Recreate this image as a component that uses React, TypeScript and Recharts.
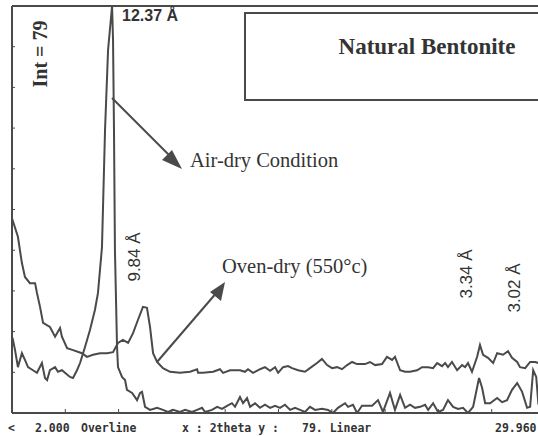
import { LineChart, Line, XAxis, YAxis } from 'recharts';

// 2theta (deg) / intensity (counts)
const airTheta = [
  2.0, 2.05, 2.16, 2.31, 2.52, 2.68, 2.84, 3.1, 3.31, 3.57, 3.73, 3.84, 3.99, 4.26, 4.41, 4.62, 4.78, 5.04, 5.2, 5.41,
  5.57, 5.83, 6.09, 6.35, 6.51, 6.72, 6.88, 7.04, 7.25, 7.3, 7.35, 7.4, 7.51, 7.56, 7.77, 7.93, 8.03, 8.3, 8.56, 8.72,
  8.82, 8.98, 9.24, 9.61, 9.92, 10.18, 10.45, 10.81, 11.08, 11.44, 11.71, 11.97, 12.13, 12.49, 12.76, 13.02, 13.28, 13.54, 13.7, 13.96,
  14.12, 14.33, 14.49, 14.75, 15.01, 15.27, 15.54, 15.8, 16.06, 16.32, 16.59, 16.85, 17.11, 17.37, 17.63, 17.9, 18.26, 18.58, 18.84, 19.1,
  19.47, 19.63, 19.89, 20.1, 20.36, 20.89, 21.2, 21.46, 21.83, 22.09, 22.36, 22.62, 22.88, 23.14, 23.41, 23.67, 23.83, 24.09, 24.35, 24.61,
  24.87, 25.14, 25.4, 25.66, 25.92, 26.19, 26.4, 26.5, 26.66, 26.82, 27.08, 27.45, 27.71, 27.97, 28.23, 28.5, 28.76, 29.02, 29.18, 29.34,
  29.5, 29.61, 29.96,
];
const airInt = [
  14.8, 14.2, 12.2, 8.9, 11.6, 10.3, 8.9, 8.3, 7.8, 9.7, 6.8, 6.4, 8.3, 8.9, 8.0, 8.3, 7.8, 7.0, 6.8, 8.3,
  9.7, 12.8, 16.1, 20.0, 23.3, 32.2, 54.9, 70.5, 79.0, 72.4, 54.9, 31.6, 12.8, 8.9, 7.0, 6.4, 4.5, 3.9, 2.5, 3.9,
  4.1, 1.2, 0.6, 1.0, 0.6, 0.2, 0.6, 0.2, 0.6, 0.2, 0.6, 1.0, 0.2, 0.6, 1.2, 0.8, 1.4, 1.9, 1.2, 3.1,
  1.9, 2.9, 1.2, 1.9, 1.0, 1.6, 1.0, 1.4, 1.0, 1.6, 0.6, 1.0, 0.6, 0.2, 1.2, 0.6, 0.8, 0.6, 0.0, 1.0,
  1.9, 1.2, 1.6, 0.0, 1.4, 1.4, 2.5, 0.2, 3.9, 0.6, 3.5, 1.0, 1.6, 1.0, 1.2, 1.6, 0.6, 1.9, 0.2, 0.6,
  2.5, 1.2, 0.8, 1.0, 0.0, 1.2, 5.0, 6.8, 4.9, 1.9, 1.9, 2.9, 2.1, 2.5, 4.5, 5.8, 4.1, 1.0, 1.2, 8.3,
  7.0, 1.9, 2.5,
];

const ovenTheta = [
  2.0, 2.31, 2.52, 2.68, 2.94, 3.21, 3.31, 3.47, 3.63, 3.99, 4.26, 4.52, 4.62, 4.89, 5.2, 5.67, 5.93, 6.25, 6.62, 6.98,
  7.3, 7.56, 7.82, 8.09, 8.35, 8.61, 8.87, 9.08, 9.24, 9.4, 9.61, 9.92, 10.29, 10.81, 11.34, 11.71, 11.76, 12.02, 12.55, 12.91,
  13.07, 13.44, 13.96, 14.22, 14.38, 14.64, 15.01, 15.27, 15.54, 15.8, 15.96, 16.22, 16.48, 16.69, 17.01, 17.37, 17.63, 18.0, 18.26, 18.53,
  18.79, 19.05, 19.31, 19.58, 19.84, 20.1, 20.52, 20.78, 21.05, 21.41, 21.67, 21.94, 22.09, 22.36, 22.62, 22.88, 23.25, 23.51, 23.83, 24.09,
  24.3, 24.56, 24.72, 24.87, 25.08, 25.35, 25.61, 25.77, 25.92, 26.13, 26.4, 26.55, 26.71, 26.97, 27.24, 27.45, 27.76, 28.02, 28.23, 28.5,
  28.65, 28.92, 29.18, 29.44, 29.96,
];
const ovenInt = [
  37.8, 34.2, 29.1, 26.4, 25.2, 25.2, 23.3, 20.6, 17.5, 16.7, 14.8, 16.5, 14.8, 12.6, 12.2, 11.6, 10.9, 11.3, 11.6, 11.6,
  11.8, 13.6, 14.2, 13.6, 15.5, 18.1, 20.6, 20.4, 16.7, 11.6, 9.9, 8.7, 8.0, 7.8, 8.0, 8.5, 7.8, 7.8, 8.0, 8.5,
  7.8, 8.3, 8.3, 8.0, 8.5, 7.8, 8.5, 8.9, 8.2, 8.9, 7.8, 8.9, 9.1, 8.7, 8.3, 8.0, 8.7, 9.7, 10.5, 9.3,
  8.7, 8.9, 8.5, 9.3, 9.9, 9.5, 9.5, 9.9, 9.3, 9.5, 10.9, 10.3, 10.9, 8.3, 8.0, 8.0, 8.3, 8.9, 8.9, 8.7,
  9.7, 9.1, 9.7, 8.9, 9.9, 8.3, 9.3, 8.9, 9.7, 8.0, 10.9, 13.2, 11.3, 10.7, 9.7, 11.6, 11.3, 12.0, 10.7, 9.9,
  8.9, 8.7, 9.9, 9.9, 9.3,
];

const xTicks = [2, 4.796, 7.592, 10.388, 13.184, 15.98, 18.776, 21.572, 24.368, 27.164, 29.96];
const yTicks = [0, 7.9, 15.8, 23.7, 31.6, 39.5, 47.4, 55.3, 63.2, 71.1, 79];

const airData = airTheta.map((t, i) => ({ t, i: airInt[i] }));
const ovenData = ovenTheta.map((t, i) => ({ t, i: ovenInt[i] }));

const ink = '#4a4a4a';
const mono = '"DejaVu Sans Mono", monospace';
const serif = '"Liberation Serif", "Times New Roman", serif';
const sans = '"Liberation Sans", Arial, sans-serif';

export default function App() {
  return (
    <div style={{ position: 'fixed', left: 0, top: 0, width: 538, height: 437, overflow: 'hidden', background: '#fff' }}>
      <LineChart width={546} height={437} margin={{ top: 2, right: 1, bottom: 20, left: 8 }}>
        <XAxis
          xAxisId="b"
          dataKey="t"
          type="number"
          domain={[2, 29.96]}
          ticks={xTicks}
          height={4}
          tickSize={-4}
          tickFormatter={() => ''}
          axisLine={{ stroke: ink, strokeWidth: 2 }}
          tickLine={{ stroke: ink }}
        />
        <XAxis
          xAxisId="t"
          orientation="top"
          dataKey="t"
          type="number"
          domain={[2, 29.96]}
          ticks={xTicks}
          height={4}
          tickSize={-4}
          tickFormatter={() => ''}
          axisLine={{ stroke: ink, strokeWidth: 2 }}
          tickLine={{ stroke: ink }}
        />
        <YAxis
          type="number"
          domain={[0, 79]}
          ticks={yTicks}
          width={4}
          tickSize={-3}
          tickFormatter={() => ''}
          allowDataOverflow
          axisLine={{ stroke: ink, strokeWidth: 2 }}
          tickLine={{ stroke: ink }}
        />
        <Line xAxisId="b" data={airData} dataKey="i" type="linear" stroke={ink} strokeWidth={2} dot={false} isAnimationActive={false} />
        <Line xAxisId="b" data={ovenData} dataKey="i" type="linear" stroke={ink} strokeWidth={2} dot={false} isAnimationActive={false} />
      </LineChart>

      <svg width={538} height={437} style={{ position: 'absolute', left: 0, top: 0, pointerEvents: 'none' }}>
        <rect x={245} y={13} width={300} height={87} fill="none" stroke={ink} strokeWidth={2} />
        <text x={427} y={54} textAnchor="middle" fontFamily={serif} fontWeight="bold" fontSize={23} fill="#333">
          Natural Bentonite
        </text>
        <text transform="translate(47,54) rotate(-90)" textAnchor="middle" fontFamily={serif} fontWeight="bold" fontSize={20} fill="#333">
          Int = 79
        </text>
        <text x={122} y={21} fontFamily={sans} fontWeight="bold" fontSize={16} fill="#333">
          12.37 Å
        </text>
        <line x1={112} y1={98} x2={176} y2={162} stroke={ink} strokeWidth={2} />
        <path d="M182,169 L162,160 L172,150 Z" fill={ink} />
        <text x={190} y={167} fontFamily={serif} fontSize={20.5} fill="#333">
          Air-dry Condition
        </text>
        <line x1={157} y1={362} x2={218} y2={291} stroke={ink} strokeWidth={2} />
        <path d="M225,282 L221,301 L210,292 Z" fill={ink} />
        <text x={222} y={273} fontFamily={serif} fontSize={20.5} fill="#333">
          Oven-dry (550°c)
        </text>
        <g fontFamily={sans} fontSize={17} fill="#333">
          <text transform="translate(140,257) rotate(-90)" textAnchor="middle">9.84 Å</text>
          <text transform="translate(472,274) rotate(-90)" textAnchor="middle">3.34 Å</text>
          <text transform="translate(520,288) rotate(-90)" textAnchor="middle">3.02 Å</text>
        </g>
        <g fontFamily={mono} fontWeight="bold" fontSize={11.5} fill="#333">
          <text x={8} y={432}>{'<'}</text>
          <text x={35} y={432}>2.000</text>
          <text x={81} y={432}>Overline</text>
          <text x={182} y={432}>x : 2theta y :</text>
          <text x={302} y={432}>79. Linear</text>
          <text x={495} y={432}>29.960</text>
        </g>
      </svg>
    </div>
  );
}
